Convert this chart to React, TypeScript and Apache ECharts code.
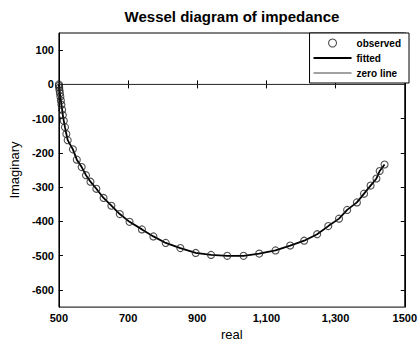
import React, { useEffect, useRef } from "react";
import * as echarts from "echarts";

const observedReal = [
  500, 500.3, 500.8, 501.7, 502.8, 504.2, 505.7, 507.3, 509.3, 511.3, 514.1, 517.5, 521.5,
  525.4, 540.4, 551.7, 565.8, 578.3, 591.2, 608.2, 629.1, 651.7, 676.0, 704.2,
  740.1, 773.2, 808.8, 851.1, 895.5, 939.9, 986.7, 1033.9,
  1079.1, 1126.3, 1168.7, 1209.1, 1246.7, 1278.9, 1309.9, 1333.4,
  1361.6, 1382.3, 1401.2, 1418.1, 1427.5, 1441.6,
];
const observedImag = [
  0, -4.3, -9.9, -17.0, -25.5, -35.5, -46.8, -59.6, -73.8, -89.4, -106.4, -124.8, -144.7,
  -162.8, -189.5, -219.6, -241.4, -265.0, -284.0, -304.7, -331.4, -354.1, -378.5, -401.2,
  -423.2, -443.7, -462.7, -477.8, -491.9, -497.6, -500.4, -500.4,
  -493.9, -484.6, -470.4, -456.2, -437.2, -413.6, -391.8, -366.3,
  -344.4, -318.9, -295.4, -274.6, -252.8, -233.8,
];
const fittedReal = observedReal;
const fittedImag = observedImag;
const zeroReal = [500, 1500];
const zeroImag = [0, 0];

const xTickValues = [500, 700, 900, 1100, 1300, 1500];
const xTickLabels = ["500", "700", "900", "1,100", "1,300", "1500"];
const yTickValues = [-600, -500, -400, -300, -200, -100, 0, 100];

const FONT = "'Liberation Sans', Arial, sans-serif";

export default function App() {
  const ref = useRef<HTMLDivElement>(null);
  useEffect(() => {
    if (!ref.current) return;
    const chart = echarts.init(ref.current, null, { renderer: "svg" });
    const axisLabel = { color: "#000", fontFamily: FONT, fontWeight: "bold" as const, fontSize: 11 };
    chart.setOption({
      animation: false,
      backgroundColor: "#fff",
      title: {
        text: "Wessel diagram of impedance",
        left: 232,
        textAlign: "center",
        top: 9,
        padding: 0,
        textStyle: { fontFamily: FONT, fontWeight: "bold", fontSize: 15, color: "#000" },
      },
      legend: {
        orient: "vertical",
        right: 11,
        top: 33,
        padding: [5, 8, 5, 4],
        itemWidth: 38,
        itemHeight: 8,
        itemGap: 5,
        backgroundColor: "#fff",
        borderColor: "#000",
        borderWidth: 1,
        borderRadius: 0,
        textStyle: { fontFamily: FONT, fontWeight: "bold", fontSize: 10, color: "#000" },
        data: [
          { name: "observed", icon: "circle", itemStyle: { color: "rgba(255,255,255,0)", borderColor: "#222", borderWidth: 1.1 } },
          { name: "fitted", icon: "path://M0 0H38V1.8H0Z", itemStyle: { color: "#000", borderWidth: 0 } },
          { name: "zero line", icon: "path://M0 0H38V0.9H0Z", itemStyle: { color: "#444", borderWidth: 0 } },
        ],
      },
      grid: {
        left: 55,
        right: 11,
        top: 33,
        bottom: 31,
        show: true,
        borderColor: "#000",
        borderWidth: 1,
        backgroundColor: "#fff",
      },
      xAxis: [
        {
          type: "value",
          min: 500,
          max: 1500,
          position: "bottom",
          name: "real",
          nameLocation: "middle",
          nameGap: 19,
          nameTextStyle: { fontFamily: FONT, fontSize: 13, color: "#000" },
          axisLine: { show: true, lineStyle: { color: "#000", width: 1 } },
          axisTick: { show: true, inside: true, length: 4, customValues: xTickValues, lineStyle: { color: "#000" } },
          axisLabel: {
            ...axisLabel,
            margin: 5,
            customValues: xTickValues,
            formatter: (v: number) => xTickLabels[xTickValues.indexOf(v)] ?? String(v),
          },
          splitLine: { show: false },
        },
        {
          type: "value",
          min: 500,
          max: 1500,
          position: "top",
          axisLine: { show: true, lineStyle: { color: "#000", width: 1 } },
          axisTick: { show: true, inside: true, length: 4, customValues: xTickValues, lineStyle: { color: "#000" } },
          axisLabel: { show: false },
          splitLine: { show: false },
        },
      ],
      yAxis: [
        {
          type: "value",
          min: -650,
          max: 150,
          position: "left",
          name: "Imaginary",
          nameLocation: "middle",
          nameGap: 33,
          nameTextStyle: { fontFamily: FONT, fontSize: 13, color: "#000" },
          axisLine: { show: true, lineStyle: { color: "#000", width: 1 } },
          axisTick: { show: true, inside: true, length: 4, customValues: yTickValues, lineStyle: { color: "#000" } },
          axisLabel: { ...axisLabel, margin: 5, customValues: yTickValues },
          splitLine: { show: false },
        },
        {
          type: "value",
          min: -650,
          max: 150,
          position: "right",
          axisLine: { show: true, lineStyle: { color: "#000", width: 1 } },
          axisTick: { show: true, inside: true, length: 4, customValues: yTickValues, lineStyle: { color: "#000" } },
          axisLabel: { show: false },
          splitLine: { show: false },
        },
      ],
      series: [
        {
          name: "zero line",
          type: "line",
          data: zeroReal.map((x, i) => [x, zeroImag[i]]),
          symbol: "none",
          lineStyle: { color: "#444", width: 0.9 },
          itemStyle: { color: "#444" },
          z: 1,
        },
        {
          name: "fitted",
          type: "line",
          data: fittedReal.map((x, i) => [x, fittedImag[i]]),
          symbol: "none",
          lineStyle: { color: "#000", width: 1.8 },
          itemStyle: { color: "#000" },
          z: 2,
        },
        {
          name: "observed",
          type: "scatter",
          data: observedReal.map((x, i) => [x, observedImag[i]]),
          symbol: "circle",
          symbolSize: 7,
          itemStyle: { color: "rgba(255,255,255,0)", borderColor: "#222", borderWidth: 1.1 },
          z: 3,
        },
      ],
    });
    return () => chart.dispose();
  }, []);
  return <div ref={ref} style={{ width: 420, height: 346, position: "absolute", left: 0, top: 0 }} />;
}
